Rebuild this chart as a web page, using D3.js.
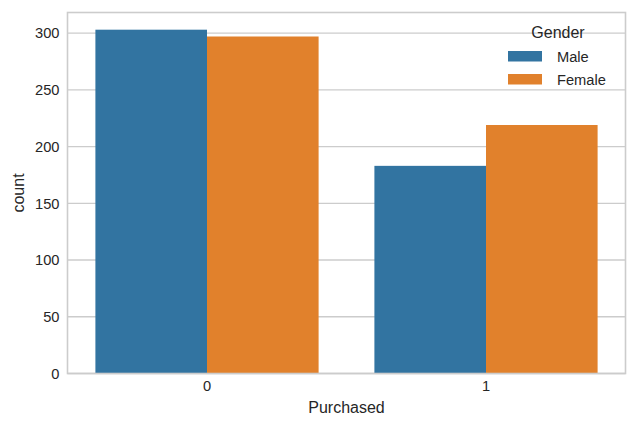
<!DOCTYPE html>
<html><head><meta charset="utf-8">
<script src="https://cdn.jsdelivr.net/npm/d3@7"></script>
<style>body{margin:0;background:#fff}svg{display:block}text{font-family:"Liberation Sans",Arial,sans-serif;fill:#262626}</style>
</head><body><svg id="c" width="637" height="428"></svg>
<script>
const categories = ["0", "1"];
const series = ["Male", "Female"];
const male = [303, 183];
const female = [297, 219];
const yTicks = [0, 50, 100, 150, 200, 250, 300];
const colors = ["#3274a1", "#e1812c"];

const svg = d3.select("#c");
const L = 67.5, R = 625.5, T = 12.5, B = 373.5;
const values = [male, female];
const ymax = d3.max(values.flat()) * 1.05;
const y = d3.scaleLinear().domain([0, ymax]).range([B, T]);
const x = d3.scaleBand().domain(categories).range([L, R]).paddingInner(0.2).paddingOuter(0.1);
const xs = d3.scaleBand().domain(series).range([0, x.bandwidth()]);

// grid
const g = svg.append("g");
g.selectAll("line.gy").data(yTicks).join("line")
  .attr("x1", L).attr("x2", R).attr("y1", d => y(d)).attr("y2", d => y(d))
  .attr("stroke", "#cccccc").attr("stroke-width", 1.33);

// bars
series.forEach((s, si) => {
  svg.append("g").selectAll("rect").data(categories).join("rect")
    .attr("x", c => x(c) + xs(s)).attr("width", xs.bandwidth())
    .attr("y", (c, i) => y(values[si][i])).attr("height", (c, i) => B - y(values[si][i]))
    .attr("fill", colors[si]);
});

// spines
svg.append("rect").attr("x", L).attr("y", T).attr("width", R - L).attr("height", B - T)
  .attr("fill", "none").attr("stroke", "#cccccc").attr("stroke-width", 1.6);

// y axis ticks
const yAxis = d3.axisLeft(y).tickValues(yTicks).tickSize(0).tickPadding(8);
const ya = svg.append("g").attr("transform", `translate(${L},0)`).call(yAxis);
ya.select(".domain").remove();
ya.selectAll("text").attr("font-size", "14.67px").attr("fill", "#262626").attr("font-family", '"Liberation Sans",Arial,sans-serif');

const xAxis = d3.axisBottom(x).tickSize(0).tickPadding(7);
const xa = svg.append("g").attr("transform", `translate(0,${B})`).call(xAxis);
xa.select(".domain").remove();
xa.selectAll("text").attr("font-size", "14.67px").attr("fill", "#262626").attr("font-family", '"Liberation Sans",Arial,sans-serif');

// labels
svg.append("text").attr("x", (L + R) / 2).attr("y", 413).attr("text-anchor", "middle")
  .attr("font-size", "16px").text("Purchased");
svg.append("text").attr("transform", `translate(24,${(T + B) / 2}) rotate(-90)`).attr("text-anchor", "middle")
  .attr("font-size", "16px").text("count");

// legend
const lg = svg.append("g");
lg.append("text").attr("x", 558).attr("y", 38).attr("text-anchor", "middle").attr("font-size", "16px").text("Gender");
series.forEach((s, i) => {
  const yy = 51 + i * 23;
  lg.append("rect").attr("x", 508).attr("y", yy).attr("width", 34).attr("height", 10.5).attr("fill", colors[i]);
  lg.append("text").attr("x", 557).attr("y", yy + 10.5).attr("font-size", "14.67px").text(s);
});
</script></body></html>
